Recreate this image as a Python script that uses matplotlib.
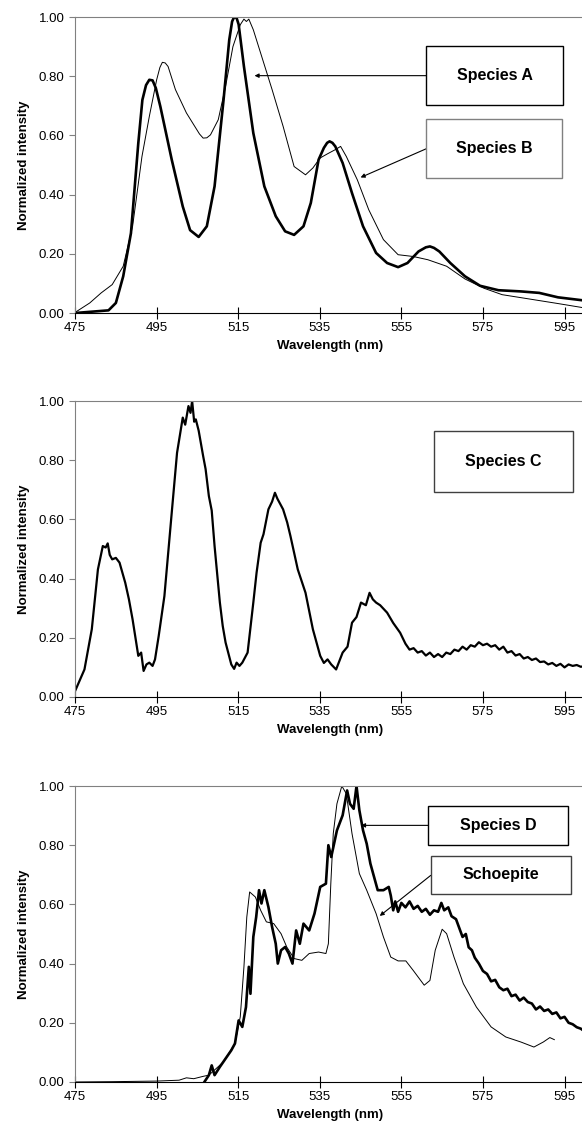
import matplotlib.pyplot as plt
from matplotlib.patches import Rectangle

plt.rcParams['font.family'] = ['Liberation Sans', 'DejaVu Sans']

# ---- panel 1
a_x = [475, 483.2, 485, 486.8, 488.7, 490.5, 491.5, 492.4, 493.2, 494.0, 494.8, 495.9, 498.7, 501.4,
       503.2, 505.3, 507.3, 509.2, 511.4, 512.8, 513.5, 514.0, 514.6, 515.1, 516.4, 518.7, 521.4,
       524.2, 526.5, 528.7, 531.0, 532.8, 534.7, 536.0, 536.8, 537.4, 538.1, 538.8, 540.6, 542.9,
       545.6, 548.8, 551.5, 554.2, 556.5, 559.2, 561.0, 562.0, 563.0, 564.3, 567.0, 570.6, 574.3,
       578.8, 584.3, 588.8, 593.4, 600]
a_y = [0, 0.009, 0.034, 0.124, 0.27, 0.574, 0.72, 0.77, 0.788, 0.786, 0.76, 0.698, 0.518, 0.36,
       0.28, 0.257, 0.293, 0.428, 0.72, 0.923, 0.985, 1.0, 0.997, 0.975, 0.833, 0.608, 0.428,
       0.327, 0.276, 0.264, 0.293, 0.372, 0.518, 0.558, 0.575, 0.58, 0.575, 0.563, 0.507, 0.405,
       0.293, 0.203, 0.169, 0.155, 0.169, 0.208, 0.222, 0.225, 0.22, 0.208, 0.169, 0.124, 0.092,
       0.077, 0.073, 0.068, 0.053, 0.042]

b_x = [475, 478.6, 481.4, 484.1, 486.8, 489.1, 491.4, 493.2, 495.0, 495.8, 496.4, 497.1, 497.8,
       499.6, 502.3, 504.1, 505.5, 506.4, 507.3, 508.2, 510.1, 511.9, 513.7, 515.5, 516.4, 517.0,
       517.6, 518.7, 520.5, 523.3, 526.0, 528.7, 531.5, 533.3, 535.1, 536.9, 538.8, 540.1, 541.5,
       544.2, 547.0, 550.6, 554.2, 557.9, 561.5, 566.1, 570.6, 575.2, 579.7, 586.1, 593.4, 600]
b_y = [0.002, 0.034, 0.068, 0.096, 0.158, 0.293, 0.529, 0.664, 0.788, 0.83, 0.847, 0.845, 0.833,
       0.755, 0.676, 0.636, 0.605, 0.591, 0.592, 0.602, 0.653, 0.766, 0.9, 0.974, 0.993, 0.985,
       0.993, 0.957, 0.878, 0.755, 0.631, 0.495, 0.467, 0.49, 0.524, 0.538, 0.552, 0.563, 0.529,
       0.45, 0.349, 0.248, 0.197, 0.191, 0.18, 0.158, 0.115, 0.084, 0.062, 0.048, 0.032, 0.017]

# ---- panel 2
c_x = [475, 477.3, 479.1, 480.6, 481.8, 482.5, 483.0, 483.5, 484.1, 485.0, 485.9, 486.6, 487.3,
       488.2, 489.1, 490.5, 491.2, 491.8, 492.5, 493.2, 494.0, 494.6, 495.5, 496.9, 498.7, 500.0,
       501.4, 502.0, 502.8, 503.3, 503.7, 504.2, 504.6, 505.3, 506.4, 507.0, 507.8, 508.5, 509.2,
       510.5, 511.2, 511.9, 513.3, 514.0, 514.6, 515.3, 516.0, 517.3, 518.7, 519.5, 520.5, 521.2,
       522.4, 523.3, 524.0, 524.6, 526.0, 527.0, 527.8, 529.6, 531.5, 533.3, 535.1, 536.0, 536.9,
       537.8, 539.0, 540.6, 541.8, 542.9, 544.0, 545.1, 546.3, 547.2, 548.0, 548.8, 549.8, 551.5,
       553.0, 554.7, 556, 557, 558, 559, 560, 561, 562, 563, 564, 565, 566, 567, 568, 569, 570,
       571, 572, 573, 574, 575, 576, 577, 578, 579, 580, 581, 582, 583, 584, 585, 586, 587, 588,
       589, 590, 591, 592, 593, 594, 595, 596, 597, 598, 599, 600]
c_y = [0.02, 0.093, 0.229, 0.431, 0.51, 0.505, 0.519, 0.48, 0.465, 0.47, 0.454, 0.42, 0.386,
       0.33, 0.262, 0.139, 0.15, 0.088, 0.11, 0.116, 0.105, 0.127, 0.206, 0.341, 0.623, 0.825,
       0.944, 0.92, 0.983, 0.96, 1.0, 0.93, 0.938, 0.9, 0.814, 0.77, 0.679, 0.63, 0.51, 0.319,
       0.24, 0.184, 0.11, 0.095, 0.116, 0.105, 0.116, 0.15, 0.319, 0.42, 0.521, 0.55, 0.634, 0.66,
       0.69, 0.67, 0.634, 0.59, 0.544, 0.431, 0.352, 0.229, 0.139, 0.115, 0.127, 0.11, 0.093, 0.15,
       0.17, 0.251, 0.27, 0.319, 0.31, 0.352, 0.33, 0.319, 0.31, 0.285, 0.25, 0.217, 0.18, 0.16,
       0.165, 0.15, 0.155, 0.14, 0.15, 0.135, 0.145, 0.135, 0.15, 0.145, 0.16, 0.155, 0.17, 0.16,
       0.175, 0.17, 0.185, 0.175, 0.18, 0.17, 0.175, 0.16, 0.17, 0.15, 0.155, 0.14, 0.145, 0.13,
       0.135, 0.125, 0.13, 0.118, 0.12, 0.11, 0.115, 0.105, 0.112, 0.1, 0.11, 0.105, 0.108, 0.102,
       0.105]

# ---- panel 3
d_x = [506.7, 507.8, 508.5, 509.2, 510.5, 511.9, 513.3, 514.2, 515.1, 516.0, 516.9, 517.6, 518.0,
       518.7, 519.4, 520.1, 520.7, 521.4, 522.4, 523.3, 524.2, 524.7, 525.5, 526.5, 527.4, 528.3,
       529.2, 530.1, 531.0, 532.4, 533.7, 535.1, 536.5, 537.1, 537.8, 539.2, 540.6, 541.7, 542.4,
       543.3, 544.0, 544.7, 545.6, 546.5, 547.4, 548.3, 549.2, 550.6, 551.9, 552.4, 553.0, 553.5,
       554.2, 555.0, 556.0, 557.0, 558.0, 559.0, 560.0, 561.0, 562.0, 563.0, 564.0, 564.8, 565.5,
       566.5, 567.3, 568.4, 569.2, 570.0, 570.8, 571.5, 572.3, 573.0, 574.0, 575.0, 576.0, 577.0,
       578.0, 579.0, 580.0, 581.0, 582.0, 583.0, 584.0, 585.0, 586.0, 587.0, 588.0, 589.0, 590.0,
       591.0, 592.0, 593.0, 594.0, 595.0, 596.0, 597.0, 598.0, 599.0, 600]
d_y = [0, 0.023, 0.056, 0.023, 0.051, 0.079, 0.107, 0.13, 0.208, 0.186, 0.253, 0.389, 0.298,
       0.49, 0.557, 0.648, 0.603, 0.648, 0.591, 0.524, 0.467, 0.4, 0.445, 0.456, 0.434, 0.4,
       0.512, 0.467, 0.535, 0.512, 0.569, 0.659, 0.67, 0.8, 0.76, 0.85, 0.901, 0.985, 0.94,
       0.923, 1.0, 0.918, 0.85, 0.805, 0.738, 0.693, 0.648, 0.648, 0.659, 0.63, 0.58, 0.61,
       0.575, 0.605, 0.59, 0.61, 0.585, 0.595, 0.575, 0.585, 0.565, 0.58, 0.575, 0.605, 0.58,
       0.59, 0.56, 0.55, 0.52, 0.49, 0.5, 0.455, 0.445, 0.42, 0.40, 0.375, 0.365, 0.34,
       0.345, 0.32, 0.31, 0.315, 0.29, 0.295, 0.275, 0.285, 0.27, 0.265, 0.245, 0.255, 0.24,
       0.245, 0.23, 0.235, 0.215, 0.22, 0.2, 0.195, 0.185, 0.18, 0.17]

s_x = [475, 484.1, 495.0, 500.5, 502.3, 504.1, 506.4, 507.8, 511.4, 514.2, 515.5, 516.4, 517.1,
       517.8, 519.2, 520.5, 521.9, 523.7, 525.5, 526.9, 528.7, 530.6, 532.4, 534.7, 536.5, 537.1,
       537.7, 538.3, 539.2, 540.4, 541.5, 542.9, 544.7, 546.5, 548.8, 550.6, 552.4, 554.2, 556.1,
       557.9, 560.6, 562.0, 563.3, 565.0, 566.1, 567.9, 570.2, 573.4, 577.0, 580.6, 584.3, 587.5,
       589.8, 591.4, 592.5]
s_y = [0, 0.001, 0.003, 0.006, 0.014, 0.011, 0.019, 0.023, 0.068, 0.13, 0.22, 0.389, 0.557,
       0.642, 0.625, 0.58, 0.541, 0.535, 0.501, 0.456, 0.417, 0.411, 0.434, 0.439, 0.434, 0.467,
       0.67, 0.839, 0.94, 1.0, 0.974, 0.839, 0.704, 0.648, 0.569, 0.49, 0.422, 0.409, 0.409,
       0.377, 0.327, 0.343, 0.445, 0.516, 0.501, 0.422, 0.332, 0.253, 0.186, 0.152, 0.135, 0.118,
       0.135, 0.15, 0.143]

xticks = [475, 495, 515, 535, 555, 575, 595]
yticks = [0.0, 0.2, 0.4, 0.6, 0.8, 1.0]

fig = plt.figure(figsize=(5.82, 11.37), dpi=100)
L, W, H = 0.129, 0.876, 0.2603
bottoms = [0.7247, 0.387, 0.0484]
axes = [fig.add_axes([L, b, W, H]) for b in bottoms]

axes[0].plot(b_x, b_y, color='black', lw=0.7)
axes[0].plot(a_x, a_y, color='black', lw=1.9)
axes[1].plot(c_x, c_y, color='black', lw=1.6)
axes[2].plot(s_x, s_y, color='black', lw=0.7)
axes[2].plot(d_x, d_y, color='black', lw=1.9)

for ax in axes:
    ax.set_xlim(475, 600)
    ax.set_ylim(0, 1.0)
    ax.set_xticks(xticks)
    ax.set_yticks(yticks)
    ax.set_yticklabels(['%.2f' % v for v in yticks])
    ax.spines['right'].set_visible(False)
    ax.spines['top'].set_color('#808080')
    ax.spines['left'].set_color('#808080')
    ax.spines['bottom'].set_color('black')
    ax.tick_params(axis='x', direction='inout', length=9, width=0.8, labelsize=9.5, pad=2)
    ax.tick_params(axis='y', direction='out', length=4, width=0.8, color='#808080', labelsize=9.5)
    ax.set_ylabel('Normalized intensity', fontsize=9.5, fontweight='bold', labelpad=6)
    ax.set_xlabel('Wavelength (nm)', fontsize=9.5, fontweight='bold', labelpad=4)


def box(ax, x0, x1, y0, y1, label, ec='black'):
    ax.add_patch(Rectangle((x0, y0), x1 - x0, y1 - y0, fill=True, fc='white', ec=ec,
                           lw=1.0, clip_on=False, zorder=5))
    ax.text((x0 + x1) / 2, (y0 + y1) / 2, label, ha='center', va='center',
            fontsize=11.5, fontweight='bold', zorder=6)


def arrow(ax, start, end):
    ax.annotate('', xy=end, xytext=start,
                arrowprops=dict(arrowstyle='-|>', lw=0.8, color='black', mutation_scale=6,
                                shrinkA=0, shrinkB=0))


box(axes[0], 561.1, 594.6, 0.703, 0.903, 'Species A')
box(axes[0], 561.1, 594.3, 0.456, 0.657, 'Species B', ec='#808080')
arrow(axes[0], (561.1, 0.802), (519.0, 0.802))
arrow(axes[0], (561.1, 0.555), (545.0, 0.458))

box(axes[1], 562.9, 597.0, 0.693, 0.900, 'Species C', ec='#404040')

box(axes[2], 561.5, 595.8, 0.802, 0.932, 'Species D')
box(axes[2], 562.2, 596.5, 0.636, 0.765, 'Schoepite', ec='#404040')
arrow(axes[2], (561.5, 0.867), (545.1, 0.867))
arrow(axes[2], (562.2, 0.698), (549.7, 0.561))

fig.savefig('out.png', dpi=100)
